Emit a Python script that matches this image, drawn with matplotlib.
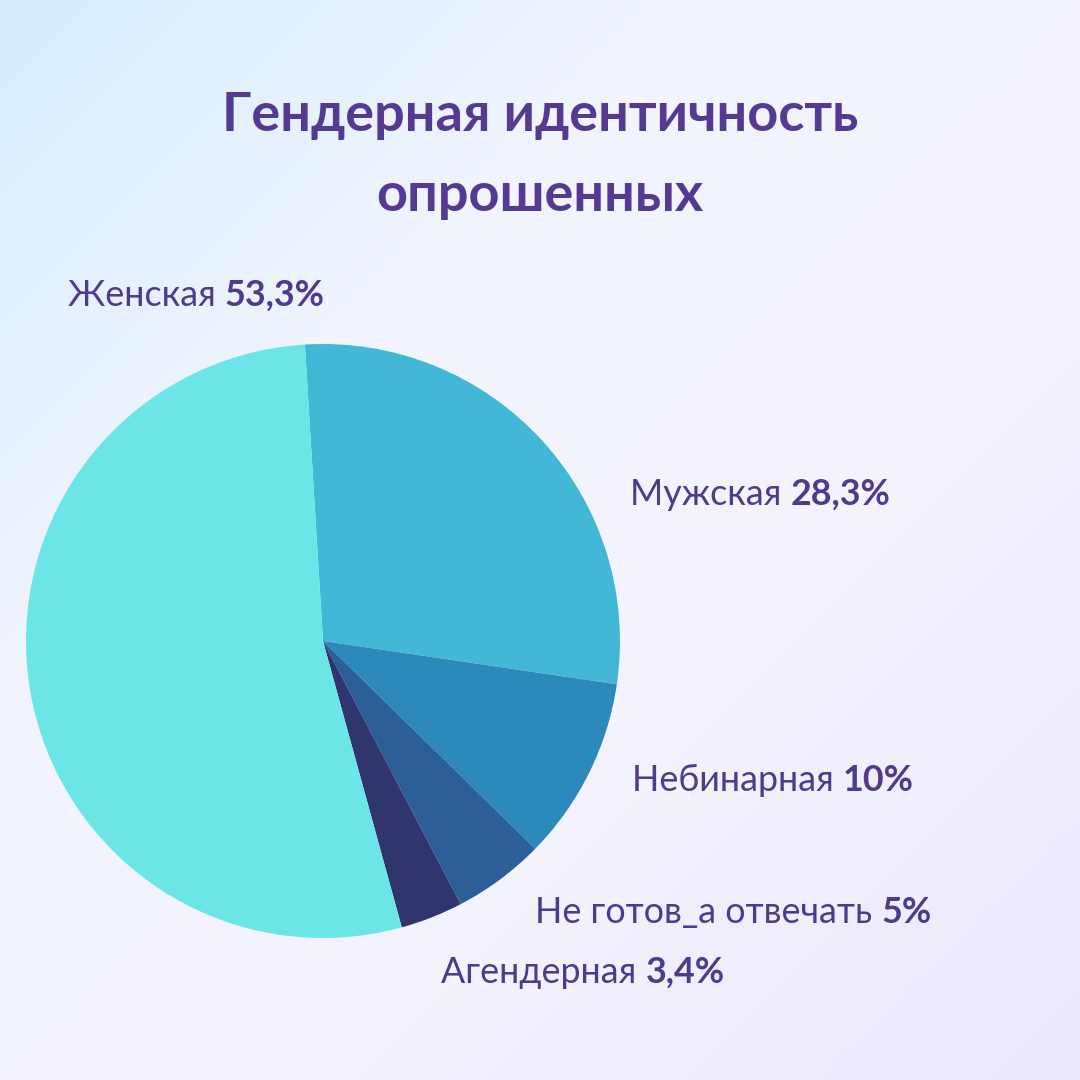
import numpy as np
import matplotlib
matplotlib.use("Agg")
import matplotlib.pyplot as plt
from matplotlib.colors import LinearSegmentedColormap

plt.rcParams['font.family'] = ['Lato', 'DejaVu Sans']

# data, clockwise from just left of the top
labels = ["Мужская", "Небинарная", "Не готов_а отвечать", "Агендерная", "Женская"]
shares = [28.3, 10.0, 5.0, 3.4, 53.3]
share_text = ["28,3%", "10%", "5%", "3,4%", "53,3%"]
colors = ["#42b8d6", "#2b8aba", "#2c5f98", "#30356e", "#6ce5e7"]

TITLE_COLOR = "#553a92"
TEXT_COLOR = "#4f3a8c"

fig = plt.figure(figsize=(10.8, 10.8), dpi=100)

# soft diagonal background
bg = fig.add_axes([0, 0, 1, 1])
bg.axis("off")
x, y = np.meshgrid(np.linspace(0, 1, 300), np.linspace(0, 1, 300))
t = (x + y) / 2
cmap = LinearSegmentedColormap.from_list("bg", ["#d7edfd", "#f2f5fd", "#f2f3fd", "#eae8fb"])
bg.imshow(t, cmap=cmap, extent=[0, 1, 0, 1], aspect="auto", origin="upper")
bg.set_xlim(0, 1)
bg.set_ylim(0, 1)

# pie: centre (323, 641) px, radius ~297 px
r = 297 / 1080
ax = fig.add_axes([(323 / 1080) - r, 1 - 641 / 1080 - r, 2 * r, 2 * r])
ax.pie(shares, colors=colors, startangle=93.5, counterclock=False, radius=1.0,
       wedgeprops=dict(linewidth=0))
ax.set_xlim(-1, 1)
ax.set_ylim(-1, 1)
ax.set_aspect("equal")
ax.axis("off")

fig.text(0.5, 1 - 116 / 1080, "Гендерная идентичность", ha="center", va="center",
         fontsize=39, fontweight="bold", color=TITLE_COLOR)
fig.text(0.5, 1 - 196 / 1080, "опрошенных", ha="center", va="center",
         fontsize=39, fontweight="bold", color=TITLE_COLOR)

# label anchors (left x, baseline y) in pixels
label_pos = [(630, 505), (632, 791), (535, 923), (441, 983), (68, 306)]

fig.canvas.draw()
renderer = fig.canvas.get_renderer()
for name, val, (px, py) in zip(labels, share_text, label_pos):
    t1 = fig.text(px / 1080, 1 - py / 1080, name + " ", ha="left", va="baseline",
                  fontsize=25.8, color=TEXT_COLOR)
    bb = t1.get_window_extent(renderer=renderer)
    fig.text(bb.x1 / 1080, 1 - py / 1080, val, ha="left", va="baseline",
             fontsize=25.8, fontweight="bold", color=TEXT_COLOR)

fig.savefig("out.png", dpi=100)
